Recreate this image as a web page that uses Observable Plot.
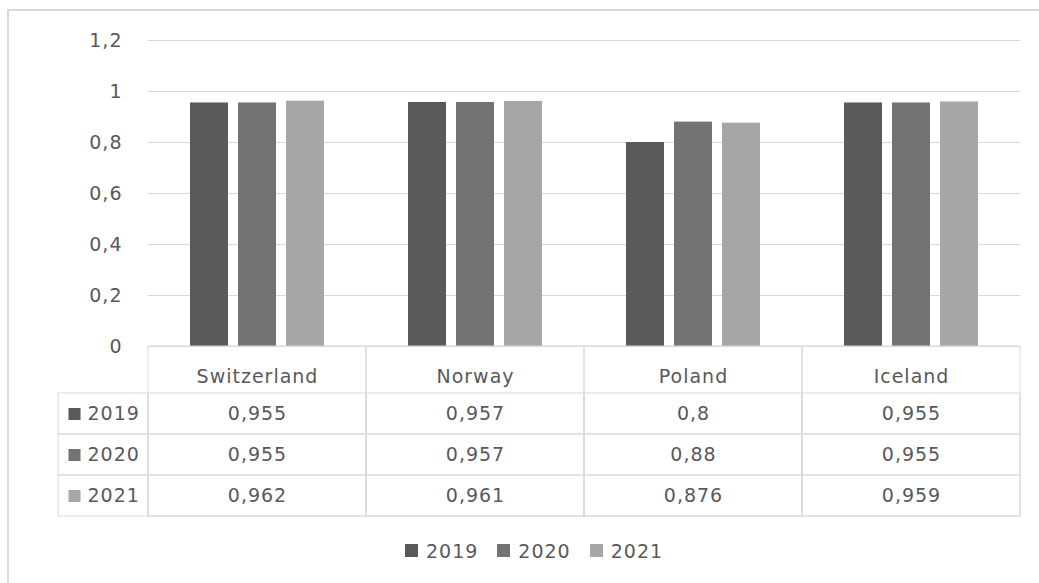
<!DOCTYPE html>
<html>
<head>
<meta charset="utf-8">
<script src="https://cdn.jsdelivr.net/npm/d3@7"></script>
<script src="https://cdn.jsdelivr.net/npm/@observablehq/plot@0.6"></script>
<style>
  html, body { margin: 0; padding: 0; background: #fff; overflow: hidden; }
  #wrap { position: relative; width: 1039px; height: 583px; overflow: hidden; }
  #frame { position: absolute; left: 7px; top: 9px; width: 1100px; height: 600px; border: 2px solid #d9d9d9; box-sizing: border-box; }
  #chart, #table, #legend { position: absolute; left: 0; }
  #chart { top: 0; }
  #table { top: 344px; }
  #legend { top: 534px; left: 405px; }
  #legend, #legend * { font-family: "DejaVu Sans" !important; font-size: 19px !important; letter-spacing: 1px; color: #595959 !important; }
  #legend span { margin-right: 19px !important; }
  #legend span > svg { margin-right: 8px !important; }
</style>
</head>
<body>
<div id="wrap">
  <div id="frame"></div>
  <div id="chart"></div>
  <div id="table"></div>
  <div id="legend"></div>
</div>
<script>
const countries = ["Switzerland", "Norway", "Poland", "Iceland"];
const years = ["2019", "2020", "2021"];
const values2019 = [0.955, 0.957, 0.8, 0.955];
const values2020 = [0.955, 0.957, 0.88, 0.955];
const values2021 = [0.962, 0.961, 0.876, 0.959];
const yTicks = [0, 0.2, 0.4, 0.6, 0.8, 1, 1.2];
const colors = ["#595959", "#737373", "#a6a6a6"];

const series = [values2019, values2020, values2021];
const data = countries.flatMap((c, i) => years.map((y, j) => ({country: c, year: y, value: series[j][i]})));
const fmt = v => String(v).replace(".", ",");

const font = {fontFamily: "DejaVu Sans", fontSize: "19px", color: "#595959", letterSpacing: "1px", background: "transparent", overflow: "visible"};

const chart = Plot.plot({
  width: 1039, height: 347,
  marginTop: 40, marginBottom: 1, marginLeft: 148, marginRight: 19,
  style: font,
  fx: {domain: countries, padding: 0, axis: null},
  x: {domain: years, paddingInner: 0.21, paddingOuter: 0.875, axis: null},
  y: {domain: [0, 1.2], axis: null},
  color: {domain: years, range: colors},
  marks: [
    Plot.ruleY(yTicks, {y: d => d, stroke: "#d9d9d9", strokeWidth: 1}),
    Plot.axisY(yTicks, {tickFormat: fmt, tickSize: 0, tickPadding: 26, label: null}),
    Plot.barY(data, {fx: "country", x: "year", y: "value", fill: "year"})
  ]
});
document.getElementById("chart").append(chart);

const table = Plot.plot({
  width: 1039, height: 174,
  marginTop: 48, marginBottom: 2, marginLeft: 148, marginRight: 19,
  style: font,
  x: {domain: countries, padding: 0, axis: null},
  y: {domain: years, padding: 0, axis: null},
  color: {domain: years, range: colors},
  marks: [
    Plot.cell(countries, {x: d => d, insetTop: -46, stroke: "#d9d9d9", fill: "none"}),
    Plot.cell(data, {x: "country", y: "year", stroke: "#d9d9d9", fill: "none"}),
    Plot.cell(years, {y: d => d, insetLeft: -90, insetRight: 872, stroke: "#d9d9d9", fill: "none"}),
    Plot.text(countries, {x: d => d, frameAnchor: "top", dy: -23, text: d => d}),
    Plot.text(data, {x: "country", y: "year", text: d => fmt(d.value)}),
    Plot.dot(years, {y: d => d, frameAnchor: "left", dx: -74, symbol: "square", r: 6.8, fill: d => d, stroke: "none"}),
    Plot.text(years, {y: d => d, frameAnchor: "left", dx: -61, textAnchor: "start", text: d => d})
  ]
});
document.getElementById("table").append(table);

const legend = Plot.legend({
  color: {domain: years, range: colors},
  legend: "swatches",
  swatchSize: 13,
  style: {fontFamily: "DejaVu Sans", fontSize: "19px", color: "#595959"}
});
document.getElementById("legend").append(legend);
</script>
</body>
</html>
